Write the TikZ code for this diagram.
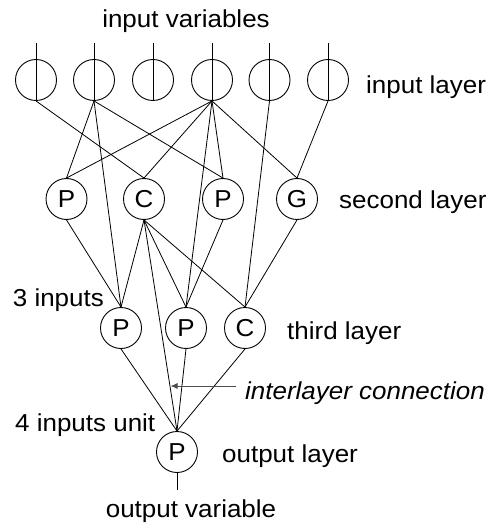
\documentclass[tikz,border=0pt]{standalone}
\usepackage{fontspec}
\setmainfont{Liberation Sans}
\usetikzlibrary{arrows.meta}
\newcommand\wtxt[1]{\scalebox{1.06}[1]{#1}}
\begin{document}
\begin{tikzpicture}[x=1pt,y=-1pt,
  unit/.style={draw,circle,line width=0.9pt,minimum size=41pt,inner sep=0pt,
    font=\fontsize{24.5}{28}\selectfont},
  lbl/.style={inner sep=0pt,font=\fontsize{24.5}{28}\selectfont},
  conn/.style={line width=0.8pt},
  pointer/.style={line width=0.9pt,draw=black!70,-{Latex[length=7pt,width=6pt]}}]
\useasboundingbox (0,0) rectangle (494,526);
% input layer
\foreach \n/\x in {1/36,2/94,3/153,4/212,5/269.5,6/328}{
  \node[unit] (i\n) at (\x,80) {};
  \coordinate (t\n) at (\x,43);
  \draw[conn] (t\n) -- (i\n.south);
}
% second layer
\node[unit] (s1) at (66.5,199) {\wtxt{P}};
\node[unit] (s2) at (144,199) {\wtxt{C}};
\node[unit] (s3) at (223,199) {\wtxt{P}};
\node[unit] (s4) at (297,199) {\wtxt{G}};
% third layer
\node[unit] (h1) at (121,328) {\wtxt{P}};
\node[unit] (h2) at (186,328) {\wtxt{P}};
\node[unit] (h3) at (245,328) {\wtxt{C}};
% output layer
\node[unit] (o) at (177,452) {\wtxt{P}};
\coordinate (ov) at (177,490);
\draw[conn] (o.south) -- (ov);
% input -> second / third
\draw[conn] (i1.south) -- (s2.north);
\draw[conn] (i2.south) -- (s1.north);
\draw[conn] (i2.south) -- (h1.north);
\draw[conn] (i2.south) -- (s3.north);
\draw[conn] (i4.south) -- (s1.north);
\draw[conn] (i4.south) -- (s2.north);
\draw[conn] (i4.south) -- (h2.north);
\draw[conn] (i4.south) -- (s3.north);
\draw[conn] (i4.south) -- (s4.north);
\draw[conn] (i5.south) -- (h3.north);
\draw[conn] (i6.south) -- (s4.north);
% second -> third / output
\draw[conn] (s1.south) -- (h1.north);
\draw[conn] (s2.south) -- (h1.north);
\draw[conn] (s2.south) -- (h2.north);
\draw[conn] (s2.south) -- (h3.north);
\draw[conn] (s2.south) -- (o.north);
\draw[conn] (s3.south) -- (h2.north);
\draw[conn] (s4.south) -- (h3.north);
% third -> output
\draw[conn] (h1.south) -- (o.north);
\draw[conn] (h2.south) -- (o.north);
\draw[conn] (h3.south) -- (o.north);
% labels
\node[lbl,anchor=base] (tinv) at (186,28) {\wtxt{input variables}};
\node[lbl,anchor=base west] (til) at (366,93.3) {\wtxt{input layer}};
\node[lbl,anchor=base west] (tsl) at (339,208.3) {\wtxt{second layer}};
\node[lbl,anchor=base west] (t3i) at (12.7,306) {\wtxt{3 inputs}};
\node[lbl,anchor=base west] (ttl) at (287,339) {\wtxt{third layer}};
\node[lbl,anchor=base west,font=\fontsize{24.5}{28}\selectfont\itshape] (tic) at (245,399.5) {\wtxt{interlayer connection}};
\node[lbl,anchor=base west] (t4i) at (15,431.5) {\wtxt{4 inputs unit}};
\node[lbl,anchor=base west] (tol) at (222,462.7) {\wtxt{output layer}};
\node[lbl,anchor=base] (tov) at (191,517) {\wtxt{output variable}};
% pointer
\coordinate (as) at (235.5,386);
\coordinate (ae) at (170.5,386);
\draw[pointer] (as) -- (ae);
\end{tikzpicture}
\end{document}
